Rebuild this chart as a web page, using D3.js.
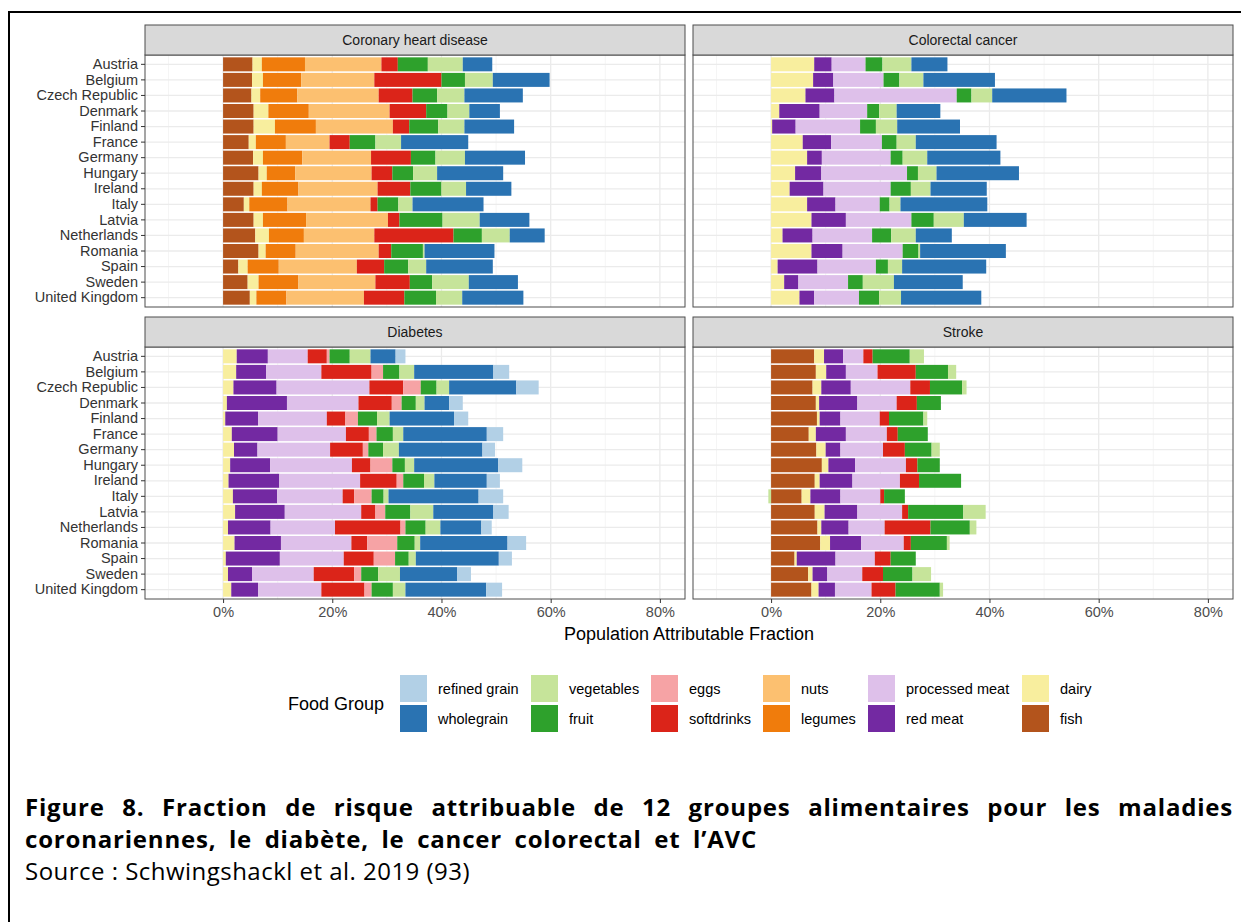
<!DOCTYPE html>
<html>
<head>
<meta charset="utf-8">
<script src="https://cdn.jsdelivr.net/npm/d3@7"></script>
<style>
  body { margin: 0; background: #fff; }
  svg { display: block; }
</style>
</head>
<body>
<svg id="fig" width="1241" height="922"></svg>
<script>
// ---- data -------------------------------------------------------------
const countries = ["Austria", "Belgium", "Czech Republic", "Denmark", "Finland", "France",
  "Germany", "Hungary", "Ireland", "Italy", "Latvia", "Netherlands", "Romania", "Spain",
  "Sweden", "United Kingdom"];

// legend order (ggplot factor levels); stacking runs from the last level outward
const foodGroups = ["refined grain", "wholegrain", "vegetables", "fruit", "eggs", "softdrinks",
  "nuts", "legumes", "processed meat", "red meat", "dairy", "fish"];
const groupColors = ["#b2d0e6", "#2a73b2", "#c6e49a", "#2ea12c", "#f6a3a5", "#db2419",
  "#fcc070", "#f07c0c", "#dec0ea", "#7329a2", "#f8ee9e", "#b3541c"];

const xTicks = [0, 20, 40, 60, 80];
const xMinorTicks = [-10, 10, 30, 50, 70];

// population attributable fraction (%) per country, by food group
const coronary = {
  "fish":       [5.4, 5.3, 5.2, 5.6, 5.6, 4.7, 5.5, 6.5, 5.6, 3.8, 5.6, 5.9, 6.5, 2.8, 4.5, 4.9],
  "dairy":      [1.7, 2.0, 1.6, 2.7, 3.9, 1.3, 1.8, 1.5, 1.5, 1.0, 1.7, 2.5, 1.3, 1.7, 2.0, 1.2],
  "legumes":    [7.9, 7.0, 6.8, 7.4, 7.5, 5.5, 7.2, 5.2, 6.7, 7.0, 7.9, 6.4, 5.5, 5.7, 7.3, 5.5],
  "nuts":       [14.0, 13.4, 14.9, 14.8, 14.1, 8.0, 12.6, 14.0, 14.5, 15.2, 15.0, 12.9, 15.2, 14.3, 14.1, 14.2],
  "softdrinks": [3.0, 12.3, 6.2, 6.7, 3.0, 3.7, 7.3, 3.8, 6.0, 1.3, 2.1, 14.5, 2.3, 5.0, 6.3, 7.4],
  "fruit":      [5.5, 4.3, 4.5, 3.9, 5.3, 4.7, 4.5, 3.8, 5.7, 3.8, 7.9, 5.2, 5.8, 4.4, 4.1, 5.8],
  "vegetables": [6.4, 5.1, 5.0, 4.0, 4.8, 4.7, 5.4, 4.4, 4.5, 2.6, 6.8, 5.1, 0.3, 3.3, 6.7, 4.8],
  "wholegrain": [5.4, 10.4, 10.7, 5.6, 9.1, 12.3, 11.0, 12.1, 8.3, 13.0, 9.1, 6.4, 12.8, 12.2, 9.0, 11.2]
};

const colorectal = {
  "dairy":          [7.9, 7.7, 6.3, 1.5, 0.2, 5.8, 6.6, 4.4, 3.4, 6.6, 7.4, 2.1, 7.4, 1.2, 2.4, 5.2],
  "red meat":       [3.2, 3.7, 5.3, 7.4, 4.3, 5.2, 2.7, 4.8, 6.2, 5.2, 6.3, 5.5, 5.7, 7.3, 2.6, 2.7],
  "processed meat": [6.2, 9.2, 22.4, 8.7, 11.8, 9.3, 12.6, 15.7, 12.3, 8.1, 12.0, 10.9, 11.0, 10.7, 9.1, 8.2],
  "fruit":          [3.1, 2.9, 2.7, 2.2, 2.9, 2.7, 2.2, 2.0, 3.7, 1.8, 4.1, 3.5, 2.9, 2.2, 2.7, 3.7],
  "vegetables":     [5.3, 4.4, 3.8, 3.2, 3.9, 3.5, 4.5, 3.4, 3.6, 2.0, 5.5, 4.5, 0.3, 2.6, 5.7, 4.0],
  "wholegrain":     [6.6, 13.1, 13.6, 8.0, 11.5, 14.8, 13.4, 15.1, 10.3, 15.9, 11.5, 6.6, 15.7, 15.4, 12.6, 14.7]
};

const diabetes = {
  "dairy":          [2.5, 2.4, 1.9, 0.7, 0.4, 1.6, 2.0, 1.3, 1.0, 1.8, 2.2, 0.9, 2.1, 0.5, 0.9, 1.5],
  "red meat":       [5.7, 5.5, 7.9, 11.0, 6.0, 8.4, 4.3, 7.3, 9.3, 8.1, 9.1, 7.8, 8.5, 9.9, 4.4, 4.9],
  "processed meat": [7.3, 10.1, 17.0, 13.1, 12.6, 12.5, 13.3, 15.0, 14.8, 12.0, 14.0, 11.8, 12.9, 11.7, 11.3, 11.6],
  "softdrinks":     [3.5, 9.2, 6.2, 6.1, 3.4, 4.2, 6.0, 3.4, 6.7, 2.1, 2.6, 12.0, 2.9, 5.5, 7.4, 7.9],
  "eggs":           [0.5, 2.1, 3.2, 1.8, 2.3, 1.4, 1.0, 4.0, 1.2, 3.2, 1.8, 0.9, 5.5, 3.9, 1.3, 1.3],
  "fruit":          [3.7, 3.0, 2.9, 2.6, 3.5, 3.0, 2.7, 2.3, 3.8, 2.2, 4.6, 3.7, 3.2, 2.5, 3.1, 3.9],
  "vegetables":     [3.8, 2.7, 2.3, 1.6, 2.3, 1.9, 2.9, 1.7, 1.9, 0.9, 4.2, 2.7, 1.0, 1.3, 4.0, 2.3],
  "wholegrain":     [4.6, 14.5, 12.3, 4.5, 11.8, 15.3, 15.3, 15.4, 9.6, 16.5, 11.0, 7.5, 16.0, 15.2, 10.5, 14.8],
  "refined grain":  [1.8, 2.9, 4.1, 2.5, 2.6, 3.0, 2.3, 4.4, 2.4, 4.5, 2.8, 1.9, 3.4, 2.4, 2.5, 2.9]
};

const stroke = {
  "fish":           [7.9, 8.2, 7.6, 8.2, 8.4, 6.9, 8.3, 9.3, 8.0, 5.6, 8.0, 8.5, 9.0, 4.3, 6.8, 7.4],
  "dairy":          [1.8, 1.9, 1.6, 0.6, 0.5, 1.3, 1.7, 1.2, 0.9, 1.6, 1.8, 0.7, 1.8, 0.4, 0.8, 1.3],
  "red meat":       [3.5, 3.6, 5.4, 7.0, 3.8, 5.5, 2.7, 4.9, 6.0, 5.5, 6.0, 5.0, 5.7, 7.1, 2.7, 3.0],
  "processed meat": [3.7, 5.8, 10.9, 7.2, 7.2, 7.5, 7.8, 9.3, 8.7, 7.3, 8.2, 6.6, 7.8, 7.2, 6.4, 6.7],
  "softdrinks":     [1.7, 7.0, 3.6, 3.7, 1.7, 2.0, 4.0, 2.1, 3.5, 0.7, 1.1, 8.4, 1.3, 2.9, 3.8, 4.4],
  "fruit":          [6.8, 5.9, 5.9, 4.4, 6.3, 5.5, 4.9, 4.1, 7.7, 3.8, 10.1, 7.2, 6.6, 4.6, 5.4, 8.1],
  "vegetables":     [2.6, 1.5, 0.8, 0, 0.7, 0, 1.5, 0, 0, -0.5, 4.1, 1.2, 0.5, 0, 3.4, 0.6]
};

const panelTitles = ["Coronary heart disease", "Colorectal cancer", "Diabetes", "Stroke"];
const panelData = [coronary, colorectal, diabetes, stroke];

// ---- layout -----------------------------------------------------------
const FONT = "'Liberation Sans', Arial, sans-serif";
const svg = d3.select("#fig");
svg.append("rect").attr("width", 1241).attr("height", 922).attr("fill", "#fff");
// outer frame of the figure
svg.append("rect").attr("x", 9).attr("y", 12).attr("width", 1300).attr("height", 1000)
  .attr("fill", "none").attr("stroke", "#000").attr("stroke-width", 2);

const colX = [145, 693], panelW = 540;
const stripTop = [25, 317], stripH = 30, bodyH = 252;

const color = d3.scaleOrdinal().domain(foodGroups).range(groupColors);
const stackKeys = foodGroups.slice().reverse();
const stacker = d3.stack().keys(stackKeys).offset(d3.stackOffsetDiverging);

panelData.forEach((dataset, p) => {
  const col = p % 2, row = Math.floor(p / 2);
  const x0 = colX[col], sTop = stripTop[row], top = sTop + stripH, bottom = top + bodyH;

  const x = d3.scaleLinear().domain([-14.3, 84.6]).range([x0, x0 + panelW]);
  const y = d3.scaleBand().domain(countries).range([top, bottom])
    .paddingInner(0.1).paddingOuter(0.15);

  const g = svg.append("g");
  // panel background and grid
  g.append("rect").attr("x", x0).attr("y", top).attr("width", panelW).attr("height", bodyH)
    .attr("fill", "#fff");
  g.selectAll(".minor").data(xMinorTicks).join("line")
    .attr("x1", d => x(d)).attr("x2", d => x(d)).attr("y1", top).attr("y2", bottom)
    .attr("stroke", "#f2f2f2").attr("stroke-width", 0.8);
  g.selectAll(".major").data(xTicks).join("line")
    .attr("x1", d => x(d)).attr("x2", d => x(d)).attr("y1", top).attr("y2", bottom)
    .attr("stroke", "#ebebeb").attr("stroke-width", 1.3);
  g.selectAll(".hgrid").data(countries).join("line")
    .attr("x1", x0).attr("x2", x0 + panelW)
    .attr("y1", d => y(d) + y.bandwidth() / 2).attr("y2", d => y(d) + y.bandwidth() / 2)
    .attr("stroke", "#ebebeb").attr("stroke-width", 1.3);

  // stacked bars
  const rows = countries.map((c, i) => {
    const r = { country: c };
    stackKeys.forEach(k => { r[k] = dataset[k] ? dataset[k][i] : 0; });
    return r;
  });
  const series = stacker(rows);
  series.forEach(s => {
    g.append("g").attr("fill", color(s.key))
      .selectAll("rect").data(s.filter(d => d[1] !== d[0])).join("rect")
      .attr("x", d => x(Math.min(d[0], d[1])))
      .attr("width", d => Math.abs(x(d[1]) - x(d[0])))
      .attr("y", d => y(d.data.country))
      .attr("height", y.bandwidth());
  });

  // panel border
  g.append("rect").attr("x", x0).attr("y", top).attr("width", panelW).attr("height", bodyH)
    .attr("fill", "none").attr("stroke", "#4d4d4d").attr("stroke-width", 1);

  // strip
  g.append("rect").attr("x", x0).attr("y", sTop).attr("width", panelW).attr("height", stripH)
    .attr("fill", "#d9d9d9").attr("stroke", "#4d4d4d").attr("stroke-width", 1);
  g.append("text").attr("x", x0 + panelW / 2).attr("y", sTop + stripH / 2 + 5)
    .attr("text-anchor", "middle").attr("font-family", FONT).attr("font-size", 14)
    .attr("fill", "#1a1a1a").text(panelTitles[p]);

  // y axis on left column
  if (col === 0) {
    const ax = d3.axisLeft(y).tickSize(4).tickPadding(3);
    const ag = g.append("g").attr("transform", `translate(${x0},0)`).call(ax);
    ag.select(".domain").remove();
    ag.selectAll(".tick line").attr("stroke", "#333");
    ag.selectAll(".tick text").attr("font-family", FONT).attr("font-size", 14.5)
      .attr("fill", "#333");
  }
  // x axis on bottom row
  if (row === 1) {
    const ax = d3.axisBottom(x).tickValues(xTicks).tickFormat(d => d + "%")
      .tickSize(4).tickPadding(4);
    const ag = g.append("g").attr("transform", `translate(0,${bottom})`).call(ax);
    ag.select(".domain").remove();
    ag.selectAll(".tick line").attr("stroke", "#333");
    ag.selectAll(".tick text").attr("font-family", FONT).attr("font-size", 14.5)
      .attr("fill", "#4d4d4d");
  }
});

// axis title
svg.append("text").attr("x", 689).attr("y", 640).attr("text-anchor", "middle")
  .attr("font-family", FONT).attr("font-size", 18).attr("fill", "#000")
  .text("Population Attributable Fraction");

// ---- legend -----------------------------------------------------------
const legend = svg.append("g");
legend.append("text").attr("x", 288).attr("y", 710).attr("font-family", FONT)
  .attr("font-size", 18).attr("fill", "#000").text("Food Group");
const keyCols = [400, 531, 651, 763, 868, 1022];
const keyRows = [675, 705];
const keySize = 27;
foodGroups.forEach((fg, i) => {
  const kx = keyCols[Math.floor(i / 2)], ky = keyRows[i % 2];
  legend.append("rect").attr("x", kx).attr("y", ky).attr("width", keySize).attr("height", keySize)
    .attr("fill", color(fg));
  legend.append("text").attr("x", kx + 38).attr("y", ky + keySize / 2 + 5)
    .attr("font-family", FONT).attr("font-size", 14.5).attr("fill", "#000").text(fg);
});

// ---- caption ----------------------------------------------------------
const CAP_FONT = "'Open Sans', 'Noto Sans', sans-serif";
const CAP_SIZE = 24;
const TRACK = 0.8;
const capLeft = 25, capRight = 1233;
const line1 = "Figure 8. Fraction de risque attribuable de 12 groupes alimentaires pour les maladies";
const line2 = "coronariennes, le diabète, le cancer colorectal et l’AVC";
const line3 = "Source : Schwingshackl et al. 2019 (93)";

function capText(str, y, weight) {
  return svg.append("text").attr("x", capLeft).attr("y", y).attr("font-family", CAP_FONT)
    .attr("font-weight", weight).attr("font-size", CAP_SIZE).attr("fill", "#000").text(str);
}

// second line: light tracking, word spacing fills it out to x = 757
const l2 = capText(line2, 848, 700).attr("letter-spacing", TRACK);
const l2w = l2.node().getComputedTextLength();
const nSpaces = line2.split(" ").length - 1;
l2.attr("word-spacing", Math.max(0, (732 - l2w) / nSpaces));

// first line is justified across the full width
const words = line1.split(" ");
const wordEls = words.map(w => capText(w, 816, 700).attr("letter-spacing", TRACK));
const widths = wordEls.map(t => t.node().getComputedTextLength());
const gap = (capRight - capLeft - d3.sum(widths)) / (words.length - 1);
let cx = capLeft;
wordEls.forEach((t, i) => { t.attr("x", cx); cx += widths[i] + gap; });

// source line ends near x = 470
const l3 = capText(line3, 880, 400);
const l3w = l3.node().getComputedTextLength();
if (l3w > 445) l3.attr("font-size", CAP_SIZE * 445 / l3w);
else l3.attr("letter-spacing", (445 - l3w) / line3.length);
</script>
</body>
</html>
